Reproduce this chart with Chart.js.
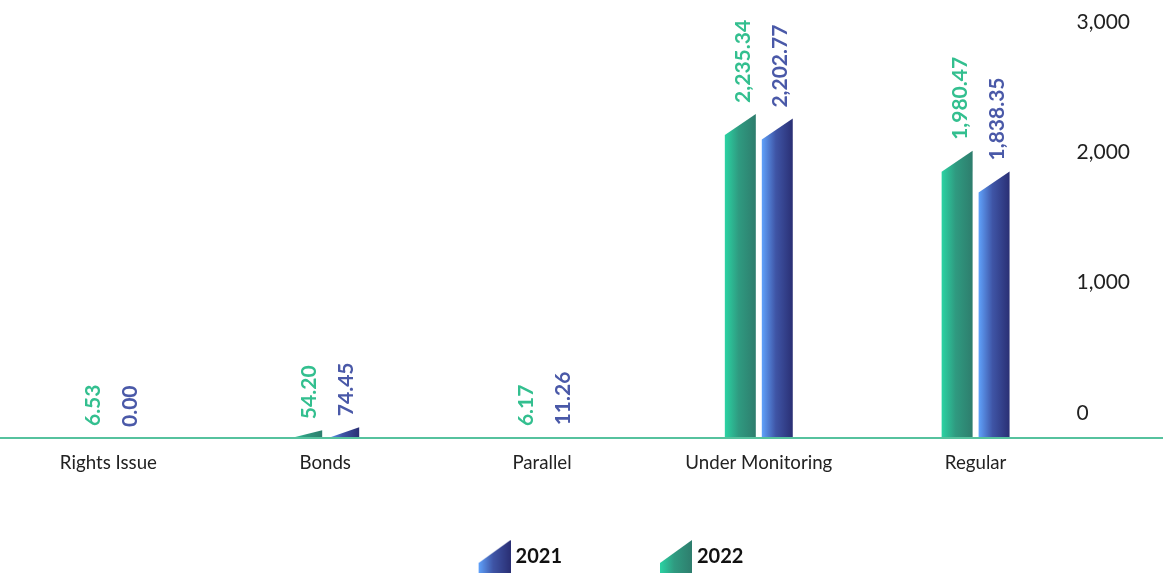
<!DOCTYPE html>
<html>
<head>
<meta charset="utf-8">
<script src="https://cdn.jsdelivr.net/npm/chart.js@4.4.1/dist/chart.umd.min.js"></script>
<style>
  html, body { margin: 0; padding: 0; background: #fff; }
  #wrap { width: 1163px; height: 577px; }
</style>
</head>
<body>
<div id="wrap"><canvas id="issuesChart"></canvas></div>
<script>
const categories = ['Rights Issue', 'Bonds', 'Parallel', 'Under Monitoring', 'Regular'];
const values2022 = [6.53, 54.20, 6.17, 2235.34, 1980.47];
const values2021 = [0.00, 74.45, 11.26, 2202.77, 1838.35];
const yTicks = [0, 1000, 2000, 3000];

const FONT = "Lato, 'Open Sans', sans-serif";
const SLANT = 21; // px drop of the bar's top-left corner

// gradient stops per series (left -> right across a bar)
const seriesStyle = {
  '2022': { stops: [[0, '#2bd3a3'], [0.45, '#2f9a80'], [1, '#2e7d6d']], text: '#33bf8f' },
  '2021': { stops: [[0, '#60a2fb'], [0.45, '#3f55a6'], [1, '#2a2f74']], text: '#4a59a8' }
};

// Small slanted icon used in the legend, padded on the left so items spread out
function makeLegendIcon(stops) {
  const c = document.createElement('canvas');
  c.width = 96;
  c.height = 34;
  const g = c.getContext('2d');
  const l = c.width - 32, r = c.width;
  const grad = g.createLinearGradient(l, 0, r, 0);
  stops.forEach(([p, col]) => grad.addColorStop(p, col));
  g.fillStyle = grad;
  g.beginPath();
  g.moveTo(l, 33);
  g.lineTo(l, 23);
  g.lineTo(r, 0);
  g.lineTo(r, 33);
  g.closePath();
  g.fill();
  return c;
}

function fmt(v) {
  return Number(v).toLocaleString('en-US', { minimumFractionDigits: 2, maximumFractionDigits: 2 });
}

// Draw the bars as slanted-top columns with gradient, plus rotated value labels
const slantBars = {
  id: 'slantBars',
  afterDatasetsDraw(chart) {
    const ctx = chart.ctx;
    chart.data.datasets.forEach((ds, i) => {
      const style = seriesStyle[ds.label];
      const meta = chart.getDatasetMeta(i);
      meta.data.forEach((bar, j) => {
        const { x, y, base, width } = bar.getProps(['x', 'y', 'base', 'width'], true);
        const left = x - width / 2;
        const right = x + width / 2;
        if (base - y > 2) {
          const grad = ctx.createLinearGradient(left, 0, right, 0);
          style.stops.forEach(([p, col]) => grad.addColorStop(p, col));
          ctx.save();
          ctx.fillStyle = grad;
          ctx.beginPath();
          ctx.moveTo(left, base);
          ctx.lineTo(left, Math.min(base, y + SLANT));
          ctx.lineTo(right, y);
          ctx.lineTo(right, base);
          ctx.closePath();
          ctx.fill();
          ctx.restore();
        }
        // value label
        ctx.save();
        ctx.translate(x + 3, y - 11);
        ctx.rotate(-Math.PI / 2);
        ctx.font = 'bold 21px ' + FONT;
        ctx.fillStyle = style.text;
        ctx.textAlign = 'left';
        ctx.textBaseline = 'middle';
        ctx.fillText(fmt(ds.data[j]), 0, 0);
        ctx.restore();
      });
    });
    // baseline across the whole width
    const y0 = chart.scales.y.getPixelForValue(0);
    ctx.save();
    ctx.strokeStyle = '#56c29e';
    ctx.lineWidth = 2;
    ctx.beginPath();
    ctx.moveTo(0, y0);
    ctx.lineTo(chart.width, y0);
    ctx.stroke();
    ctx.restore();
  }
};

const legendIcons = {
  '2022': makeLegendIcon(seriesStyle['2022'].stops),
  '2021': makeLegendIcon(seriesStyle['2021'].stops)
};

new Chart(document.getElementById('issuesChart'), {
  type: 'bar',
  data: {
    labels: categories,
    datasets: [
      {
        label: '2022',
        data: values2022,
        backgroundColor: 'rgba(0,0,0,0)',
        borderWidth: 0,
        yAxisID: 'y'
      },
      {
        label: '2021',
        data: values2021,
        backgroundColor: 'rgba(0,0,0,0)',
        borderWidth: 0,
        yAxisID: 'y'
      }
    ]
  },
  options: {
    responsive: true,
    maintainAspectRatio: false,
    animation: false,
    categoryPercentage: 0.341,
    barPercentage: 0.838,
    layout: { padding: { top: 3, left: 0, right: 0, bottom: 0 } },
    plugins: {
      tooltip: { enabled: false },
      legend: {
        position: 'bottom',
        reverse: true,
        labels: {
          usePointStyle: true,
          pointStyleWidth: 86,
          padding: 39,
          color: '#111',
          font: { family: FONT, size: 20, weight: 'bold' },
          generateLabels(chart) {
            const items = Chart.defaults.plugins.legend.labels.generateLabels(chart);
            items.forEach(it => { it.pointStyle = legendIcons[it.text]; });
            return items;
          }
        }
      }
    },
    scales: {
      x: {
        grid: { display: false },
        border: { display: false },
        ticks: {
          color: '#222',
          font: { family: FONT, size: 18.7 },
          padding: 6,
          maxRotation: 0,
          autoSkip: false
        },
        afterFit(axis) { axis.height = 70; }
      },
      y: {
        display: false,
        min: 0,
        max: 3000
      },
      y2: {
        position: 'right',
        min: -192,
        max: 3146,
        grid: { display: false },
        border: { display: false },
        afterBuildTicks(axis) {
          axis.ticks = yTicks.map(v => ({ value: v }));
        },
        ticks: {
          mirror: true,
          crossAlign: 'far',
          padding: 46,
          color: '#222',
          font: { family: FONT, size: 21 },
          callback: v => Number(v).toLocaleString('en-US')
        },
        afterFit(axis) {
          axis.width = 79;
          axis.paddingTop = 0;
          axis.paddingBottom = 0;
        }
      }
    }
  },
  plugins: [slantBars]
});
</script>
</body>
</html>
